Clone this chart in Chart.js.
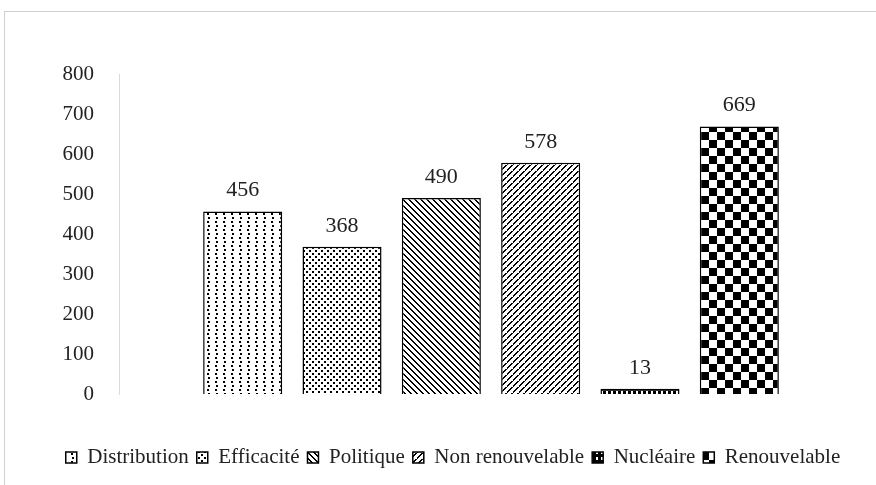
<!DOCTYPE html>
<html>
<head>
<meta charset="utf-8">
<script src="https://cdn.jsdelivr.net/npm/chart.js@4.4.1/dist/chart.umd.min.js"></script>
<style>
    body { margin: 0; background: #fff; overflow: hidden; }
    #frame {
        position: absolute; left: 4px; top: 11px;
        width: 896px; height: 498px;
        border: 1px solid #d0d0d0;
    }
    #energyChart { display: block; }
</style>
</head>
<body>
<div id="frame"><canvas id="energyChart" width="896" height="498"></canvas></div>
<script>
const categories = [''];
const seriesNames = ['Distribution', 'Efficacité', 'Politique', 'Non renouvelable', 'Nucléaire', 'Renouvelable'];
const seriesValues = [456, 368, 490, 578, 13, 669];
const yMin = 0;
const yMax = 800;
const yStep = 100;

function makeTile(w, h, draw) {
    const c = document.createElement('canvas');
    c.width = w;
    c.height = h;
    const t = c.getContext('2d');
    t.fillStyle = '#fff';
    t.fillRect(0, 0, w, h);
    t.fillStyle = '#000';
    draw(t, w, h);
    return document.getElementById('energyChart').getContext('2d').createPattern(c, 'repeat');
}

// sparse dots
const patDistribution = makeTile(8, 8, (t) => {
    t.fillRect(2, 1, 2, 2);
    t.fillRect(3, 5, 2, 2);
});
// denser dots
const patEfficacite = makeTile(6, 6, (t) => {
    t.fillRect(1, 1, 2, 2);
    t.fillRect(4, 4, 2, 2);
});
// wide downward diagonal
const patPolitique = makeTile(6, 6, (t) => {
    for (let i = 0; i < 6; i++) {
        t.fillRect(i, i, 2, 1);
    }
    t.fillRect(0, 5, 1, 1);
});
// dashed upward diagonal
const patNonRenouv = makeTile(6, 6, (t) => {
    for (let i = 0; i < 6; i++) {
        t.fillRect(i, 5 - i, 2, 1);
    }
    t.fillRect(0, 0, 1, 1);
    t.fillStyle = '#fff';
    t.fillRect(3, 2, 1, 1);
});
// black with white holes
const patNucleaire = makeTile(5, 6, (t, w, h) => {
    t.fillRect(0, 0, w, h);
    t.fillStyle = '#fff';
    t.fillRect(1, 1, 2, 3);
});
// checkerboard
const patRenouv = makeTile(16, 16, (t) => {
    t.fillRect(0, 0, 8, 8);
    t.fillRect(8, 8, 8, 8);
});

const patterns = [patDistribution, patEfficacite, patPolitique, patNonRenouv, patNucleaire, patRenouv];

const serif = "'Liberation Serif', 'Times New Roman', serif";

const valueLabels = {
    id: 'valueLabels',
    afterDatasetsDraw(chart) {
        const ctx = chart.ctx;
        ctx.save();
        ctx.font = '22px ' + serif;
        ctx.fillStyle = '#222';
        ctx.textAlign = 'center';
        ctx.textBaseline = 'middle';
        chart.data.datasets.forEach((ds, i) => {
            const meta = chart.getDatasetMeta(i);
            meta.data.forEach((bar, j) => {
                ctx.fillText(ds.data[j], bar.x, bar.y - 21);
            });
        });
        ctx.restore();
    }
};

document.addEventListener('DOMContentLoaded', function () {
    const ctx = document.getElementById('energyChart').getContext('2d');

    const datasets = seriesNames.map((name, i) => ({
        label: name,
        data: [seriesValues[i]],
        backgroundColor: patterns[i],
        borderColor: '#000',
        borderWidth: 1.5,
        categoryPercentage: 0.801,
        barPercentage: 0.796
    }));

    new Chart(ctx, {
        type: 'bar',
        data: { labels: categories, datasets: datasets },
        plugins: [valueLabels],
        options: {
            responsive: false,
            animation: false,
            events: [],
            layout: { padding: { top: 62, left: 38, right: 38, bottom: 32 } },
            plugins: {
                tooltip: { enabled: false },
                legend: {
                    position: 'bottom',
                    labels: {
                        boxWidth: 11,
                        boxHeight: 11,
                        padding: 8,
                        color: '#222',
                        font: { family: serif, size: 21 }
                    }
                }
            },
            scales: {
                x: {
                    grid: { display: false },
                    border: { display: false },
                    ticks: { display: false },
                    afterFit: (scale) => { scale.height = 45; }
                },
                y: {
                    min: yMin,
                    max: yMax,
                    grid: { display: false },
                    border: { color: '#d9d9d9', width: 1 },
                    ticks: {
                        stepSize: yStep,
                        padding: 17,
                        color: '#222',
                        font: { family: serif, size: 21 }
                    },
                    afterFit: (scale) => { scale.width = 76; }
                }
            }
        }
    });
});
</script>
</body>
</html>
